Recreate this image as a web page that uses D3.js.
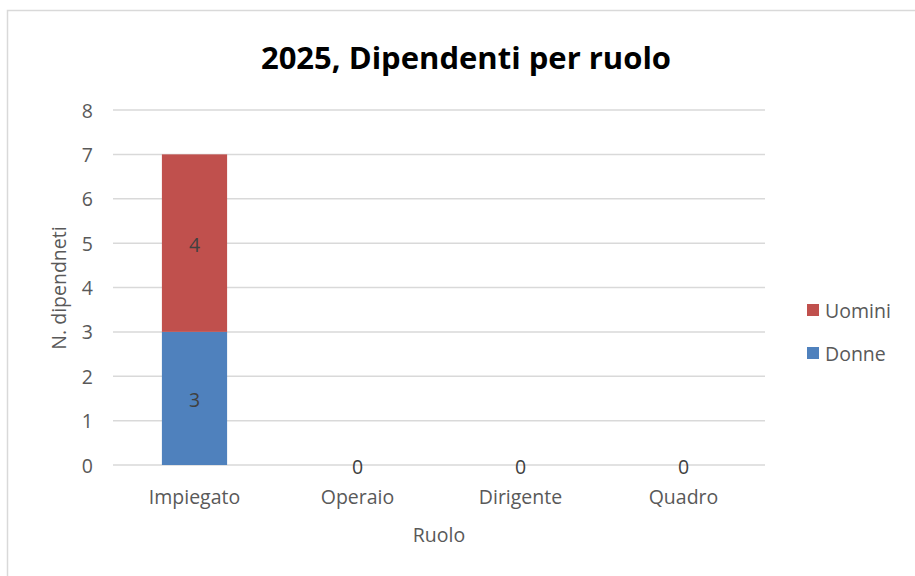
<!DOCTYPE html>
<html>
<head>
<meta charset="utf-8">
<script src="https://cdn.jsdelivr.net/npm/d3@7"></script>
<style>
  body { margin: 0; background: #fff; }
  text { font-family: "Open Sans", "Liberation Sans", sans-serif; }
</style>
</head>
<body>
<div id="stage"></div>
<script>
const categories = ['Impiegato', 'Operaio', 'Dirigente', 'Quadro'];
const donne = [3, 0, 0, 0];
const uomini = [4, 0, 0, 0];
const yTicks = [0, 1, 2, 3, 4, 5, 6, 7, 8];
const seriesNames = ['Donne', 'Uomini'];
const colors = {Donne: '#4F81BD', Uomini: '#C0504D'};

const width = 915, height = 576;
const fs = '19.5px';
const svg = d3.select('#stage').append('svg')
  .attr('width', width)
  .attr('height', height);

// chart frame
svg.append('rect')
  .attr('x', 7.5).attr('y', 10.5)
  .attr('width', 930).attr('height', 600)
  .style('fill', '#fff')
  .style('stroke', '#d9d9d9')
  .style('stroke-width', 1.5);

const x = d3.scaleBand()
  .domain(categories)
  .range([113, 765])
  .paddingInner(0.6)
  .paddingOuter(0.3);

const y = d3.scaleLinear()
  .domain([0, 8])
  .range([465, 110]);

// gridlines
svg.append('g').selectAll('line')
  .data(yTicks)
  .join('line')
  .attr('x1', 113).attr('x2', 765)
  .attr('y1', d => y(d)).attr('y2', d => y(d))
  .style('stroke', '#d9d9d9')
  .style('stroke-width', 1.5);

// y tick labels
svg.append('g').selectAll('text')
  .data(yTicks)
  .join('text')
  .attr('x', 93)
  .attr('y', d => y(d))
  .attr('text-anchor', 'end')
  .attr('dominant-baseline', 'central')
  .style('font-size', fs)
  .style('fill', '#595959')
  .text(d => d);

const rows = categories.map((c, i) => ({cat: c, Donne: donne[i], Uomini: uomini[i]}));
const stacked = d3.stack().keys(seriesNames)(rows);

svg.append('g').selectAll('g')
  .data(stacked)
  .join('g')
  .style('fill', d => colors[d.key])
  .selectAll('rect')
  .data(d => d)
  .join('rect')
  .attr('x', d => x(d.data.cat))
  .attr('width', x.bandwidth())
  .attr('y', d => y(d[1]))
  .attr('height', d => y(d[0]) - y(d[1]));

// data labels: segment values, zero only once per category
const labels = [];
categories.forEach((c, i) => {
  const total = donne[i] + uomini[i];
  if (total === 0) {
    labels.push({cat: c, v: 0, mid: 0});
  } else {
    if (donne[i] > 0) labels.push({cat: c, v: donne[i], mid: donne[i] / 2});
    if (uomini[i] > 0) labels.push({cat: c, v: uomini[i], mid: donne[i] + uomini[i] / 2});
  }
});
svg.append('g').selectAll('text')
  .data(labels)
  .join('text')
  .attr('x', d => x(d.cat) + x.bandwidth() / 2)
  .attr('y', d => y(d.mid) + 1)
  .attr('text-anchor', 'middle')
  .attr('dominant-baseline', 'central')
  .style('font-size', fs)
  .style('fill', '#404040')
  .text(d => d.v);

// category labels
svg.append('g').selectAll('text')
  .data(categories)
  .join('text')
  .attr('x', d => x(d) + x.bandwidth() / 2)
  .attr('y', 496)
  .attr('text-anchor', 'middle')
  .attr('dominant-baseline', 'central')
  .style('font-size', fs)
  .style('fill', '#595959')
  .text(d => d);

// axis titles
svg.append('text')
  .attr('x', 439).attr('y', 534)
  .attr('text-anchor', 'middle')
  .attr('dominant-baseline', 'central')
  .style('font-size', fs)
  .style('fill', '#595959')
  .text('Ruolo');

svg.append('text')
  .attr('transform', 'translate(58,288) rotate(-90)')
  .attr('text-anchor', 'middle')
  .attr('dominant-baseline', 'central')
  .style('font-size', fs)
  .style('fill', '#595959')
  .text('N. dipendneti');

// title
svg.append('text')
  .attr('x', 466).attr('y', 57)
  .attr('text-anchor', 'middle')
  .attr('dominant-baseline', 'central')
  .style('font-size', '31px')
  .style('font-weight', 'bold')
  .style('fill', '#000')
  .text('2025, Dipendenti per ruolo');

// legend
const legendItems = ['Uomini', 'Donne'];
const leg = svg.append('g').selectAll('g')
  .data(legendItems)
  .join('g')
  .attr('transform', (d, i) => `translate(807,${310 + i * 43})`);
leg.append('rect')
  .attr('x', 0).attr('y', -6)
  .attr('width', 12).attr('height', 12)
  .style('fill', d => colors[d]);
leg.append('text')
  .attr('x', 18).attr('y', 0)
  .attr('dominant-baseline', 'central')
  .style('font-size', fs)
  .style('fill', '#595959')
  .text(d => d);
</script>
</body>
</html>
